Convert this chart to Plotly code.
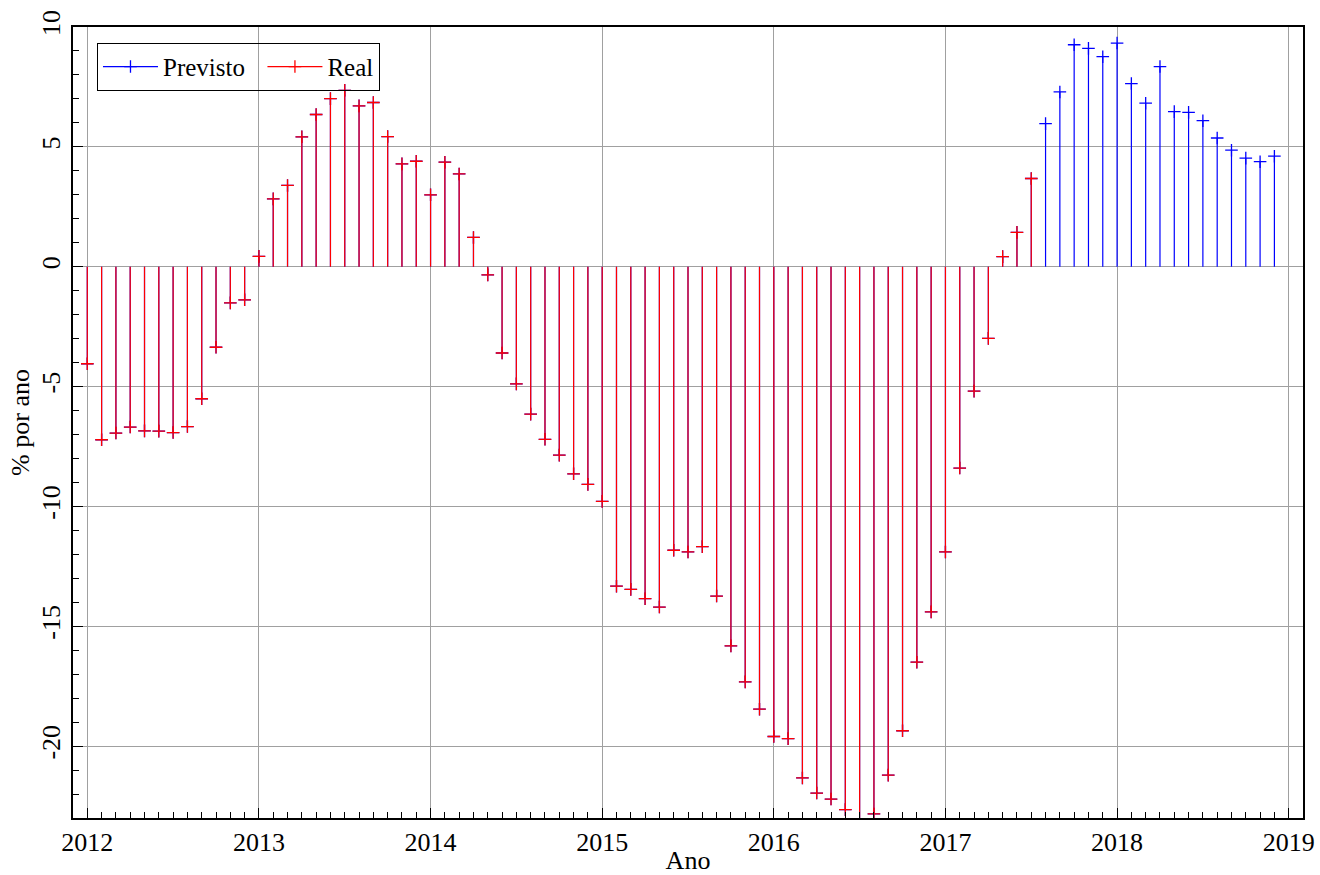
import plotly.graph_objects as go

# Monthly values starting January 2012
start_year = 2012
previsto = [
    -4.05, -7.22, -6.94, -6.69, -6.85, -6.86, -6.92, -6.67, -5.51, -3.36, -1.51, -1.38,
    0.43, 2.83, 3.39, 5.42, 6.35, 7.01, 7.36, 6.71, 6.85, 5.43, 4.29, 4.40,
    3.00, 4.36, 3.87, 1.22, -0.34, -3.60, -4.89, -6.15, -7.20, -7.86, -8.64, -9.08,
    -9.79, -13.33, -13.46, -13.85, -14.20, -11.83, -11.90, -11.68, -13.74, -15.82, -17.32, -18.46,
    -19.60, -19.69, -21.33, -21.96, -22.21, -22.65, -23.40, -22.83, -21.21, -19.36, -16.50, -14.40,
    -11.90, -8.40, -5.19, -2.99, 0.42, 1.43, 3.68, 5.97, 7.29, 9.26, 9.11, 8.76,
    9.33, 7.64, 6.82, 8.35, 6.47, 6.44, 6.09, 5.37, 4.86, 4.53, 4.38, 4.61,
]
real = [
    -4.05, -7.22, -6.94, -6.69, -6.85, -6.86, -6.92, -6.67, -5.51, -3.36, -1.51, -1.38,
    0.43, 2.83, 3.39, 5.42, 6.35, 7.01, 7.36, 6.71, 6.85, 5.43, 4.29, 4.40,
    3.00, 4.36, 3.87, 1.22, -0.34, -3.60, -4.89, -6.15, -7.20, -7.86, -8.64, -9.08,
    -9.79, -13.33, -13.46, -13.85, -14.20, -11.83, -11.90, -11.68, -13.74, -15.82, -17.32, -18.46,
    -19.60, -19.69, -21.33, -21.96, -22.21, -22.65, -23.40, -22.83, -21.21, -19.36, -16.50, -14.40,
    -11.90, -8.40, -5.19, -2.99, 0.42, 1.43, 3.68,
]
x_tick_labels = ["2012", "2013", "2014", "2015", "2016", "2017", "2018", "2019"]
y_tick_values = [-20, -15, -10, -5, 0, 5, 10]

FONT = "Liberation Serif, Times New Roman, serif"


def months(n):
    return [start_year + k / 12 for k in range(n)]


def impulses(xs, ys):
    lx, ly = [], []
    for xv, yv in zip(xs, ys):
        lx += [xv, xv, None]
        ly += [0, yv, None]
    return lx, ly


fig = go.Figure()
series = [("Previsto", previsto, "#0000ff", "Previsto\u00a0\u00a0"),
          ("Real", real, "#ff0000", "Real")]
for name, vals, col, legend_label in series:
    xs = months(len(vals))
    lx, ly = impulses(xs, vals)
    fig.add_trace(go.Scatter(x=lx, y=ly, mode="lines", line=dict(color=col, width=1.2),
                             showlegend=False, hoverinfo="skip"))
    fig.add_trace(go.Scatter(x=xs, y=vals, mode="markers", showlegend=False, name=name,
                             marker=dict(symbol="cross-thin", size=9, line=dict(color=col, width=1.3))))
    fig.add_trace(go.Scatter(x=[None], y=[None], mode="lines+markers", name=legend_label,
                             line=dict(color=col, width=1.2),
                             marker=dict(symbol="cross-thin", size=9, line=dict(color=col, width=1.3))))

fig.update_layout(
    width=1320, height=875,
    margin=dict(l=73, r=17, t=27, b=57, autoexpand=False),
    paper_bgcolor="white", plot_bgcolor="white",
    font=dict(family=FONT, size=26, color="black"),
    legend=dict(x=0.0195, y=0.98, xanchor="left", yanchor="top", orientation="h",
                bordercolor="black", borderwidth=1, bgcolor="rgba(255,255,255,0)",
                font=dict(family=FONT, size=25), itemwidth=55, tracegroupgap=0),
)
fig.update_xaxes(
    range=[2012 - 1 / 12, 2019 + 1 / 12],
    automargin=False,
    tickmode="array", tickvals=[int(t) for t in x_tick_labels], ticktext=x_tick_labels,
    ticks="inside", ticklen=10, tickcolor="black",
    minor=dict(ticks="inside", dtick=1 / 12, tick0=2012, ticklen=6, tickcolor="black", showgrid=False),
    showgrid=True, gridcolor="#a0a0a0", gridwidth=1,
    showline=True, linecolor="black", linewidth=1.5, mirror=True,
    zeroline=False,
    tickfont=dict(family=FONT, size=26),
    title=dict(text="Ano", font=dict(family=FONT, size=26), standoff=0),
)
fig.update_yaxes(
    range=[-23, 10],
    automargin=False,
    tickmode="array", tickvals=y_tick_values, ticktext=[str(v) for v in y_tick_values],
    tickangle=-90, ticklabelstandoff=1,
    ticks="inside", ticklen=10, tickcolor="black",
    minor=dict(ticks="inside", dtick=1, tick0=0, ticklen=6, tickcolor="black", showgrid=False),
    showgrid=True, gridcolor="#a0a0a0", gridwidth=1,
    showline=True, linecolor="black", linewidth=1.5, mirror=True,
    zeroline=True, zerolinecolor="#a0a0a0", zerolinewidth=1,
    tickfont=dict(family=FONT, size=26),
    title=dict(text="% por ano", font=dict(family=FONT, size=26), standoff=0),
)

fig.write_html("out.html", config={"displayModeBar": False},
               post_script="document.body.style.margin='0px';document.body.style.overflow='hidden';")
